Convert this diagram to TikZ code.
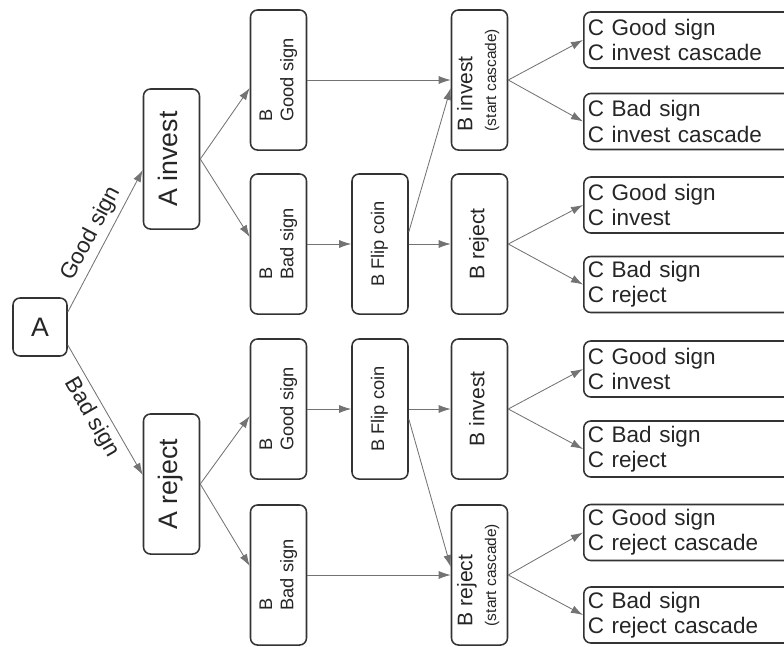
\documentclass[tikz,border=0pt]{standalone}
\usepackage{fontspec}
\setmainfont{Liberation Sans}
\usetikzlibrary{arrows.meta}
\usetikzlibrary{calc}

\newcommand{\uptext}[1]{\rotatebox{90}{\begin{tabular}{@{}l@{}}#1\end{tabular}}}

\begin{document}
\begin{tikzpicture}[
  x=0.025cm, y=-0.025cm,
  font=\fontsize{16}{18}\selectfont,
  box/.style={draw=black!80, line width=1.1pt, rounded corners=5pt, fill=white, text=black!85, inner sep=1pt, align=center},
  vbox/.style={box, minimum width=1.4cm, minimum height=3.5cm},
  cbox/.style={box, anchor=west, minimum height=1.4cm, text width=5.6cm, align=left, inner sep=3pt},
  bigtext/.style={font=\fontsize{19}{22}\selectfont},
  midtext/.style={font=\fontsize{15}{17}\selectfont},
  smalltext/.style={font=\fontsize{13}{15}\selectfont},
  arrow/.style={-{Latex[length=3mm,width=2mm]}, draw=black!55, line width=0.6pt},
  edgelabel/.style={text=black!85, font=\fontsize{16}{18}\selectfont}
]
\useasboundingbox (0,0) rectangle (784,646);

% Root
\node[box, bigtext, minimum width=1.35cm, minimum height=1.45cm] (A) at (40,327) {A};

% A's move
\node[vbox, bigtext] (Ainv) at (171.5,159) {\uptext{A invest}};
\node[vbox, bigtext] (Arej) at (171.5,484) {\uptext{A reject}};

% B's private sign
\node[vbox, smalltext] (Bgood1) at (278.5,80) {\uptext{B\\Good sign}};
\node[vbox, smalltext] (Bbad1) at (278.5,244) {\uptext{B\\Bad sign}};
\node[vbox, smalltext] (Bgood2) at (278.5,409) {\uptext{B\\Good sign}};
\node[vbox, smalltext] (Bbad2) at (278.5,575) {\uptext{B\\Bad sign}};

% Coin flips
\node[vbox, smalltext] (Flip1) at (380,244) {\uptext{B Flip coin}};
\node[vbox, smalltext] (Flip2) at (380,409) {\uptext{B Flip coin}};

% B's move
\node[vbox, midtext] (Binv1) at (479.5,80) {\uptext{B invest\\{\fontsize{11}{13}\selectfont(start cascade)}}};
\node[vbox, midtext] (Brej1) at (479.5,244) {\uptext{B reject}};
\node[vbox, midtext] (Binv2) at (479.5,409) {\uptext{B invest}};
\node[vbox, midtext] (Brej2) at (479.5,575) {\uptext{B reject\\{\fontsize{11}{13}\selectfont(start cascade)}}};

% C outcomes
\node[cbox] (C1) at (583,40) {C Good sign\\C invest cascade};
\node[cbox] (C2) at (583,121.5) {C Bad sign\\C invest cascade};
\node[cbox] (C3) at (583,205) {C Good sign\\C invest};
\node[cbox] (C4) at (583,284.5) {C Bad sign\\C reject};
\node[cbox] (C5) at (583,369) {C Good sign\\C invest};
\node[cbox] (C6) at (583,449) {C Bad sign\\C reject};
\node[cbox] (C7) at (583,532.5) {C Good sign\\C reject cascade};
\node[cbox] (C8) at (583,615) {C Bad sign\\C reject cascade};

% A's sign
\draw[arrow] ($(A.east)+(0,-15)$) -- node[edgelabel, above, sloped]{Good sign} ($(Ainv.west)+(0,11)$);
\draw[arrow] ($(A.east)+(0,18)$) -- node[edgelabel, below, sloped]{Bad sign} ($(Arej.west)+(0,-9)$);

% B sees sign
\draw[arrow] (Ainv.east) -- ($(Bgood1.west)+(0,8)$);
\draw[arrow] (Ainv.east) -- ($(Bbad1.west)+(0,-7)$);
\draw[arrow] (Arej.east) -- ($(Bgood2.west)+(0,7)$);
\draw[arrow] (Arej.east) -- ($(Bbad2.west)+(0,-9)$);

% B decides
\draw[arrow] (Bgood1) -- (Binv1);
\draw[arrow] (Bbad1) -- (Flip1);
\draw[arrow] (Flip1) -- (Brej1);
\draw[arrow] ($(Flip1.east)+(0,-12)$) -- ($(Binv1.west)+(0,8)$);
\draw[arrow] (Bgood2) -- (Flip2);
\draw[arrow] (Flip2) -- (Binv2);
\draw[arrow] ($(Flip2.east)+(0,10)$) -- ($(Brej2.west)+(0,-8)$);
\draw[arrow] (Bbad2) -- (Brej2);

% C follows
\draw[arrow] (Binv1.east) -- (C1.west);
\draw[arrow] (Binv1.east) -- (C2.west);
\draw[arrow] (Brej1.east) -- (C3.west);
\draw[arrow] (Brej1.east) -- (C4.west);
\draw[arrow] (Binv2.east) -- (C5.west);
\draw[arrow] (Binv2.east) -- (C6.west);
\draw[arrow] (Brej2.east) -- (C7.west);
\draw[arrow] (Brej2.east) -- (C8.west);

\end{tikzpicture}
\end{document}
